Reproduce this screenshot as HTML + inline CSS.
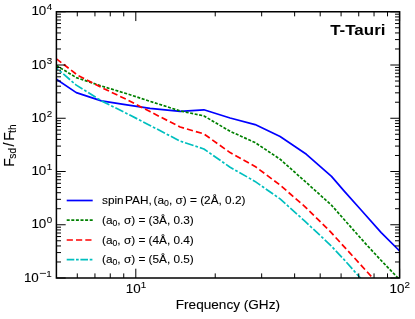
<!DOCTYPE html>
<html><head><meta charset="utf-8"><title>T-Tauri</title>
<style>html,body{margin:0;padding:0;background:#fff;}svg{display:block;will-change:transform;}text{font-family:"Liberation Sans",sans-serif;}</style>
</head><body>
<svg width="415" height="319" viewBox="0 0 415 319">
<rect x="0" y="0" width="415" height="319" fill="#fff"/>
<defs><clipPath id="ax"><rect x="56.40" y="11.75" width="343.20" height="266.25"/></clipPath></defs>
<g clip-path="url(#ax)" fill="none" stroke-width="1.70" stroke-linejoin="round">
<polyline points="56.4,79.3 76.3,92.6 101.4,100.9 125.2,104.6 150.0,108.3 180.1,111.4 203.9,109.8 230.1,118.0 255.1,124.6 280.1,136.5 306.4,154.3 331.5,176.4 344.0,190.9 361.1,210.0 381.2,232.6 399.6,251.0" stroke="#0000ff"/>
<polyline points="56.4,65.5 76.3,77.6 101.4,86.0 125.2,93.2 150.0,101.3 180.1,110.9 203.9,115.9 230.1,131.3 255.1,142.6 280.1,159.2 306.4,182.6 331.4,205.1 355.2,232.0 366.8,245.0 381.2,260.5 399.6,279.7" stroke="#008000" stroke-dasharray="3.0 1.6"/>
<polyline points="56.4,58.8 77.6,75.2 101.4,87.5 125.2,98.8 150.0,111.6 180.1,127.0 203.9,133.9 230.1,152.6 255.1,166.4 280.1,185.1 305.1,206.8 330.1,231.4 355.2,258.8 374.1,279.5" stroke="#ff0000" stroke-dasharray="6.2 3.1"/>
<polyline points="56.4,68.0 76.3,85.1 101.4,100.9 125.2,112.7 150.0,125.4 180.1,141.1 203.9,149.0 230.1,167.2 255.0,181.4 280.1,198.9 305.1,221.4 330.1,244.8 343.9,259.4 361.7,279.5" stroke="#00bfbf" stroke-dasharray="8.9 2.0 2.7 2.0" stroke-dashoffset="6.5"/>
</g>
<path d="M77.29 278.00V273.40M77.29 11.75V16.35M94.95 278.00V273.40M94.95 11.75V16.35M110.25 278.00V273.40M110.25 11.75V16.35M123.74 278.00V273.40M123.74 11.75V16.35M215.22 278.00V273.40M215.22 11.75V16.35M261.67 278.00V273.40M261.67 11.75V16.35M294.63 278.00V273.40M294.63 11.75V16.35M320.19 278.00V273.40M320.19 11.75V16.35M341.08 278.00V273.40M341.08 11.75V16.35M358.74 278.00V273.40M358.74 11.75V16.35M374.04 278.00V273.40M374.04 11.75V16.35M387.53 278.00V273.40M387.53 11.75V16.35M135.81 278.00V268.70M135.81 11.75V21.05M399.60 278.00V268.70M399.60 11.75V21.05M56.40 278.00H65.70M399.60 278.00H390.30M56.40 261.97H61.00M399.60 261.97H395.00M56.40 252.59H61.00M399.60 252.59H395.00M56.40 245.94H61.00M399.60 245.94H395.00M56.40 240.78H61.00M399.60 240.78H395.00M56.40 236.56H61.00M399.60 236.56H395.00M56.40 233.00H61.00M399.60 233.00H395.00M56.40 229.91H61.00M399.60 229.91H395.00M56.40 227.19H61.00M399.60 227.19H395.00M56.40 224.75H65.70M399.60 224.75H390.30M56.40 208.72H61.00M399.60 208.72H395.00M56.40 199.34H61.00M399.60 199.34H395.00M56.40 192.69H61.00M399.60 192.69H395.00M56.40 187.53H61.00M399.60 187.53H395.00M56.40 183.31H61.00M399.60 183.31H395.00M56.40 179.75H61.00M399.60 179.75H395.00M56.40 176.66H61.00M399.60 176.66H395.00M56.40 173.94H61.00M399.60 173.94H395.00M56.40 171.50H65.70M399.60 171.50H390.30M56.40 155.47H61.00M399.60 155.47H395.00M56.40 146.09H61.00M399.60 146.09H395.00M56.40 139.44H61.00M399.60 139.44H395.00M56.40 134.28H61.00M399.60 134.28H395.00M56.40 130.06H61.00M399.60 130.06H395.00M56.40 126.50H61.00M399.60 126.50H395.00M56.40 123.41H61.00M399.60 123.41H395.00M56.40 120.69H61.00M399.60 120.69H395.00M56.40 118.25H65.70M399.60 118.25H390.30M56.40 102.22H61.00M399.60 102.22H395.00M56.40 92.84H61.00M399.60 92.84H395.00M56.40 86.19H61.00M399.60 86.19H395.00M56.40 81.03H61.00M399.60 81.03H395.00M56.40 76.81H61.00M399.60 76.81H395.00M56.40 73.25H61.00M399.60 73.25H395.00M56.40 70.16H61.00M399.60 70.16H395.00M56.40 67.44H61.00M399.60 67.44H395.00M56.40 65.00H65.70M399.60 65.00H390.30M56.40 48.97H61.00M399.60 48.97H395.00M56.40 39.59H61.00M399.60 39.59H395.00M56.40 32.94H61.00M399.60 32.94H395.00M56.40 27.78H61.00M399.60 27.78H395.00M56.40 23.56H61.00M399.60 23.56H395.00M56.40 20.00H61.00M399.60 20.00H395.00M56.40 16.91H61.00M399.60 16.91H395.00M56.40 14.19H61.00M399.60 14.19H395.00M56.40 11.75H65.70M399.60 11.75H390.30" stroke="#000" stroke-width="1.00" fill="none"/>
<rect x="56.40" y="11.75" width="343.20" height="266.25" fill="none" stroke="#000" stroke-width="1.50"/>
<g font-family='"Liberation Sans", sans-serif' fill="#000" stroke="#000" stroke-width="0.1">
<text x="38.8" y="281.70" font-size="13.4" text-anchor="end" id="yl-1">10</text>
<path d="M39.9 273.40H46.0" stroke="#000" stroke-width="0.8" fill="none"/>
<text x="46.3" y="276.70" font-size="9.8" id="ys-1">1</text>
<text x="46.3" y="228.45" font-size="13.4" text-anchor="end" id="yl0">10</text>
<text x="46.7" y="223.45" font-size="9.8" id="ys0">0</text>
<text x="46.3" y="175.20" font-size="13.4" text-anchor="end" id="yl1">10</text>
<text x="46.7" y="170.20" font-size="9.8" id="ys1">1</text>
<text x="46.3" y="121.95" font-size="13.4" text-anchor="end" id="yl2">10</text>
<text x="46.7" y="116.95" font-size="9.8" id="ys2">2</text>
<text x="46.3" y="68.70" font-size="13.4" text-anchor="end" id="yl3">10</text>
<text x="46.7" y="63.70" font-size="9.8" id="ys3">3</text>
<text x="46.3" y="15.45" font-size="13.4" text-anchor="end" id="yl4">10</text>
<text x="46.7" y="10.45" font-size="9.8" id="ys4">4</text>
<text x="125.71" y="292.5" font-size="13.4" id="xl1">10</text>
<text x="140.81" y="287.8" font-size="9.8" id="xs1">1</text>
<text x="389.50" y="292.5" font-size="13.4" id="xl2">10</text>
<text x="404.60" y="287.8" font-size="9.8" id="xs2">2</text>
<text id="xlab" x="227.9" y="309.3" font-size="13.6" text-anchor="middle">Frequency (GHz)</text>
<g id="ylab" transform="translate(13.6,165.7) rotate(-90)" font-size="14.0"><text x="-1.0" y="0">F</text><text x="7.0" y="2.3" font-size="10.2">sd</text><text x="19.2" y="0">/</text><text x="24.9" y="0">F</text><text x="32.8" y="2.3" font-size="10.2">th</text></g>
<text id="ttl" stroke="none" x="330.2" y="34.6" font-size="14" font-weight="bold" textLength="55.3" lengthAdjust="spacingAndGlyphs">T-Tauri</text>
<line x1="66.7" x2="92.7" y1="200.5" y2="200.5" stroke="#0000ff" stroke-width="1.70"/>
<text id="lg0" x="102.0" y="204.1" font-size="11.8">spin<tspan dx="1.4">PAH,</tspan><tspan dx="-1.4"> (a</tspan><tspan font-size="8.7" dy="1.9">0</tspan><tspan dy="-1.9">, σ) = (2Å, 0.2)</tspan></text>
<line x1="66.7" x2="92.7" y1="220.2" y2="220.2" stroke="#008000" stroke-width="1.70" stroke-dasharray="3.0 1.6"/>
<text id="lg1" x="102.0" y="223.8" font-size="11.8">(a<tspan font-size="8.7" dy="1.9">0</tspan><tspan dy="-1.9">, σ) = (3Å, 0.3)</tspan></text>
<line x1="66.7" x2="92.7" y1="240.0" y2="240.0" stroke="#ff0000" stroke-width="1.70" stroke-dasharray="6.2 3.1"/>
<text id="lg2" x="102.0" y="243.6" font-size="11.8">(a<tspan font-size="8.7" dy="1.9">0</tspan><tspan dy="-1.9">, σ) = (4Å, 0.4)</tspan></text>
<line x1="66.7" x2="92.7" y1="259.7" y2="259.7" stroke="#00bfbf" stroke-width="1.70" stroke-dasharray="7.6 1.7 2.7 1.7"/>
<text id="lg3" x="102.0" y="263.2" font-size="11.8">(a<tspan font-size="8.7" dy="1.9">0</tspan><tspan dy="-1.9">, σ) = (5Å, 0.5)</tspan></text>
</g>
</svg>
</body></html>
